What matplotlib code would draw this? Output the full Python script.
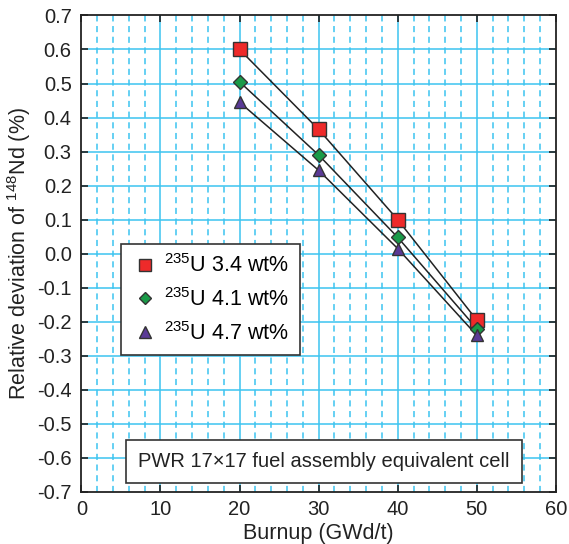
import numpy as np
import matplotlib.pyplot as plt
from matplotlib.ticker import MultipleLocator

# Data
burnup = [20, 30, 40, 50]
dev_34 = [0.600, 0.365, 0.100, -0.195]
dev_41 = [0.505, 0.290, 0.048, -0.220]
dev_47 = [0.445, 0.245, 0.015, -0.240]
labels = ['$^{235}$U 3.4 wt%', '$^{235}$U 4.1 wt%', '$^{235}$U 4.7 wt%']

plt.rcParams['font.family'] = ['Liberation Sans', 'DejaVu Sans']
plt.rcParams['mathtext.fontset'] = 'custom'
plt.rcParams['mathtext.rm'] = 'Liberation Sans'

fig = plt.figure(figsize=(5.69, 5.44), dpi=100)
ax = fig.add_axes([0.143, 0.0956, 0.834, 0.876])

grid_c = '#3cc4f0'
# grid
for x in np.arange(2, 60, 2):
    if x % 10 == 0:
        ax.axvline(x, color=grid_c, lw=1.1, zorder=0)
    else:
        ax.axvline(x, color=grid_c, lw=1.1, ls=(0, (4, 3)), zorder=0)
for y in np.arange(-0.6, 0.65, 0.1):
    ax.axhline(y, color=grid_c, lw=1.1, zorder=0)

styles = [
    (dev_34, 's', '#ee2a2a', 10),
    (dev_41, 'D', '#1a9a48', 7),
    (dev_47, '^', '#5a3a96', 9),
]
for (vals, m, c, ms), lab in zip(styles, labels):
    ax.plot(burnup, vals, color='#222222', lw=1.1, zorder=2)
    ax.plot(burnup, vals, ls='none', marker=m, ms=ms, mfc=c, mec='#333333',
            mew=1.0, zorder=3, label=lab)

ax.set_xlim(0, 60)
ax.set_ylim(-0.7, 0.7)
ax.set_xticks([0, 10, 20, 30, 40, 50, 60])
ax.yaxis.set_major_locator(MultipleLocator(0.1))
ax.yaxis.set_major_formatter(plt.FuncFormatter(lambda v, p: f'{v:.1f}'))
ax.tick_params(direction='in', length=5, width=1.2, top=True, right=True,
               labelsize=14.5, colors='#222222', pad=6)
ax.tick_params(axis='y', pad=7)
for s in ax.spines.values():
    s.set_color('#222222')
    s.set_linewidth(1.3)

ax.set_xlabel('Burnup (GWd/t)', fontsize=15.5, color='#222222', labelpad=3)
ax.set_ylabel('Relative deviation of $^{148}$Nd (%)', fontsize=15.5,
              color='#222222', labelpad=3)

leg = ax.legend(loc='upper left', bbox_to_anchor=(0.061, 0.544), fontsize=15.5,
                frameon=True, fancybox=False, edgecolor='#333333',
                handletextpad=0.3, borderpad=0.5, labelspacing=0.5,
                handlelength=1.2, markerscale=0.9)
leg.get_frame().set_linewidth(1.2)
leg.get_frame().set_alpha(1)

ax.text(0.12, 0.064, 'PWR 17\u00d717 fuel assembly equivalent cell',
        transform=ax.transAxes, fontsize=14.5, color='#222222', va='center',
        bbox=dict(boxstyle='square,pad=0.6', fc='white', ec='#333333', lw=1.2))

fig.savefig('out.png', dpi=100)
